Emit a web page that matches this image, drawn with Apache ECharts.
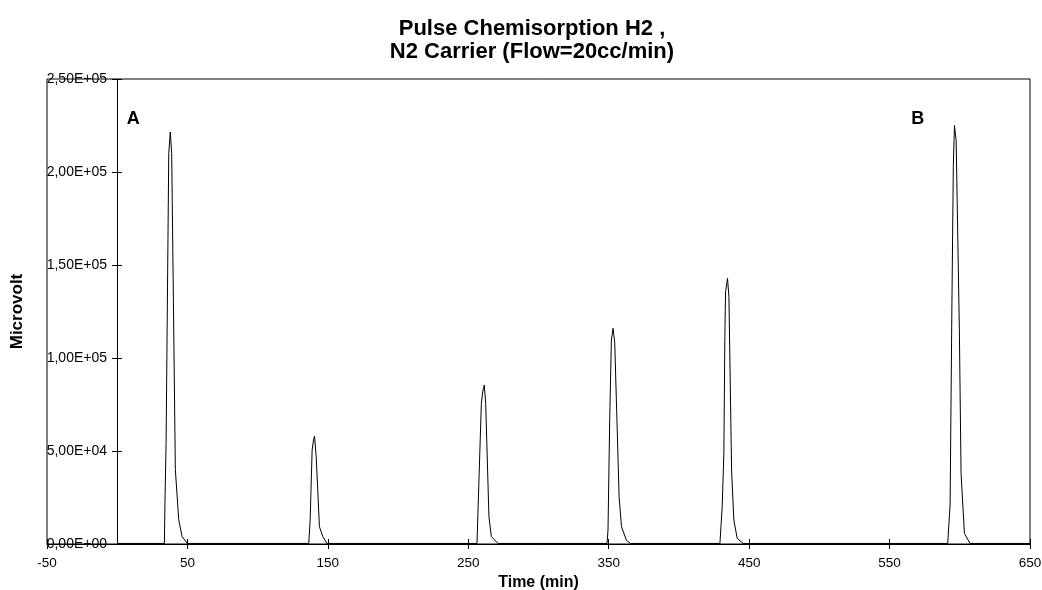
<!DOCTYPE html>
<html>
<head>
<meta charset="utf-8">
<script src="https://cdn.jsdelivr.net/npm/echarts@6/dist/echarts.min.js"></script>
<style>
html,body{margin:0;padding:0;background:#fff;}
#chart{width:1042px;height:590px;}
</style>
</head>
<body>
<div id="chart"></div>
<script>
// Time (min)
var time = [
  0, 33.6, 34.0, 34.8, 36.7, 37.8, 38.8, 41.4, 43.8, 46.2, 50,
  136.4, 137.4, 138.8, 139.8, 140.5, 141.7, 144, 146.4, 149.3,
  256.2, 257.6, 259.3, 260.5, 261.4, 262.4, 264.7, 266.4, 271.1,
  348.8, 349.5, 350.7, 351.9, 353.1, 354.3, 357.4, 359.1, 362.6, 365.5,
  429.2, 430.8, 432.0, 432.7, 433.2, 434.6, 435.6, 437.5, 439.1, 441.5, 445.8,
  591.4, 593.1, 594.3, 595.4, 596.2, 597.4, 599.7, 600.9, 603.3, 607.3, 650
];
// Microvolt
var signal = [
  300, 300, 22000, 54000, 210000, 221500, 210000, 40000, 13000, 4000, 300,
  300, 13000, 50500, 56000, 58000, 47000, 9300, 4000, 300,
  300, 34400, 75600, 82800, 85500, 75600, 14700, 4000, 300,
  300, 7500, 66700, 109700, 116000, 108000, 25400, 9300, 2000, 300,
  300, 20000, 48800, 111500, 135600, 142800, 133000, 39800, 12900, 3000, 300,
  300, 21000, 122000, 203000, 225000, 217000, 115000, 38000, 5700, 300, 300
];
var yTickLabels = ['0,00E+00', '5,00E+04', '1,00E+05', '1,50E+05', '2,00E+05', '2,50E+05'];
var xTickValues = [-50, 50, 150, 250, 350, 450, 550, 650];
var annotations = [
  { name: 'A', value: [11.5, 228500] },
  { name: 'B', value: [570, 228500] }
];
var titleLines = ['Pulse Chemisorption H2 ,', 'N2 Carrier (Flow=20cc/min)'];

var FONT = "Arial, 'Liberation Sans', sans-serif";
var lineData = time.map(function (t, i) { return [t, signal[i]]; });

var chart = echarts.init(document.getElementById('chart'), null, { renderer: 'canvas' });
var xCommon = {
  type: 'value', min: -50, max: 650, interval: 100,
  splitLine: { show: false }
};
var yCommon = {
  type: 'value', min: 0, max: 250000, interval: 50000,
  splitLine: { show: false }
};
// y axis crosses the time axis at t = 0 (50 of the 700 time units from the left edge)
var Y_OFFSET = -Math.round(983 * 50 / 700);
chart.setOption({
  animation: false,
  backgroundColor: '#fff',
  title: {
    text: titleLines.join('\n'),
    left: 527, top: 12, textAlign: 'center',
    textStyle: { fontFamily: FONT, fontWeight: 'bold', fontSize: 22, lineHeight: 23, color: '#000' }
  },
  grid: {
    left: 47, right: 12, top: 79, bottom: 46,
    containLabel: false, outerBoundsMode: 'none',
    show: true, borderColor: '#000', borderWidth: 1, backgroundColor: 'transparent'
  },
  xAxis: [
    Object.assign({}, xCommon, {
      position: 'bottom',
      name: 'Time (min)', nameLocation: 'middle', nameGap: 31,
      nameTextStyle: { fontFamily: FONT, fontWeight: 'bold', fontSize: 16, color: '#000' },
      axisLine: { show: true, onZero: false, lineStyle: { color: '#000', width: 1 } },
      axisTick: { show: true, inside: false, length: 5, lineStyle: { color: '#000' } },
      axisLabel: { show: true, margin: 12, fontFamily: FONT, fontSize: 13.5, color: '#000',
        formatter: function (v) { return xTickValues.indexOf(v) >= 0 ? String(v) : ''; } }
    }),
    Object.assign({}, xCommon, {
      position: 'bottom',
      axisLine: { show: false, onZero: false },
      axisTick: { show: true, inside: true, length: 5, lineStyle: { color: '#000' } },
      axisLabel: { show: false }
    })
  ],
  yAxis: [
    Object.assign({}, yCommon, {
      position: 'left', offset: Y_OFFSET,
      name: 'Microvolt', nameLocation: 'middle', nameGap: 91,
      nameTextStyle: { fontFamily: FONT, fontWeight: 'bold', fontSize: 17, color: '#000' },
      axisLine: { show: true, onZero: false, lineStyle: { color: '#000', width: 1 } },
      axisTick: { show: true, inside: false, length: 5, lineStyle: { color: '#000' } },
      axisLabel: { show: true, margin: 10, fontFamily: FONT, fontSize: 14, color: '#000',
        formatter: function (v) { return yTickLabels[Math.round(v / 50000)]; } }
    }),
    Object.assign({}, yCommon, {
      position: 'left', offset: Y_OFFSET,
      axisLine: { show: false, onZero: false },
      axisTick: { show: true, inside: true, length: 5, lineStyle: { color: '#000' } },
      axisLabel: { show: false }
    })
  ],
  series: [
    {
      type: 'line', data: lineData, xAxisIndex: 0, yAxisIndex: 0,
      showSymbol: false, symbol: 'none', smooth: false,
      lineStyle: { color: '#000', width: 1 }
    },
    {
      type: 'scatter', data: annotations, xAxisIndex: 0, yAxisIndex: 0,
      symbolSize: 0, itemStyle: { opacity: 1, color: '#000' },
      label: { show: true, position: 'inside', formatter: '{b}', opacity: 1,
        fontFamily: FONT, fontWeight: 'bold', fontSize: 18, color: '#000' }
    }
  ]
});
</script>
</body>
</html>
